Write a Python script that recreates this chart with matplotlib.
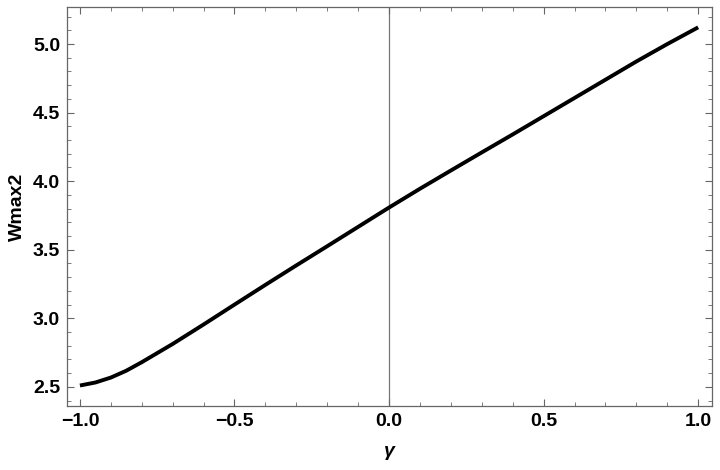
import matplotlib
matplotlib.use("Agg")
import matplotlib.pyplot as plt
from matplotlib.ticker import MultipleLocator

# значення
gamma = [-1.0, -0.95, -0.9, -0.85, -0.8, -0.7, -0.6, -0.5, -0.4, -0.3, -0.2, -0.1,
         0.0, 0.1, 0.2, 0.3, 0.4, 0.5, 0.6, 0.7, 0.8, 0.9, 1.0]
wmax2 = [2.51, 2.532, 2.568, 2.618, 2.68, 2.813, 2.955, 3.1, 3.244, 3.386, 3.526, 3.667,
         3.808, 3.945, 4.078, 4.21, 4.341, 4.474, 4.607, 4.74, 4.873, 5.0, 5.122]

plt.rcParams['font.family'] = ['Liberation Sans', 'DejaVu Sans']

fig = plt.figure(figsize=(7.2, 4.7), dpi=100)
ax = fig.add_axes([0.093, 0.136, 0.896, 0.849])

ax.axvline(0, color='#777777', lw=0.9, zorder=1)
ax.plot(gamma, wmax2, color='black', lw=2.8, solid_joinstyle='round',
        solid_capstyle='butt', zorder=3)

ax.set_xlim(-1.042, 1.045)
ax.set_ylim(2.36, 5.27)

ax.xaxis.set_major_locator(MultipleLocator(0.5))
ax.xaxis.set_minor_locator(MultipleLocator(0.1))
ax.yaxis.set_major_locator(MultipleLocator(0.5))
ax.yaxis.set_minor_locator(MultipleLocator(0.1))

ax.tick_params(which='both', direction='in', top=True, right=True, color='#666666')
ax.tick_params(which='major', length=5, width=0.8, labelsize=14, pad=5)
ax.tick_params(which='minor', length=3, width=0.6)
for lab in ax.get_xticklabels() + ax.get_yticklabels():
    lab.set_fontweight('bold')

for sp in ax.spines.values():
    sp.set_color('#666666')
    sp.set_linewidth(0.9)

ax.set_xlabel('γ', fontsize=14, fontstyle='italic', fontweight='bold', labelpad=9)
ax.set_ylabel('Wmax2', fontsize=14, fontweight='bold', labelpad=5)

fig.savefig('out.png', dpi=100)
